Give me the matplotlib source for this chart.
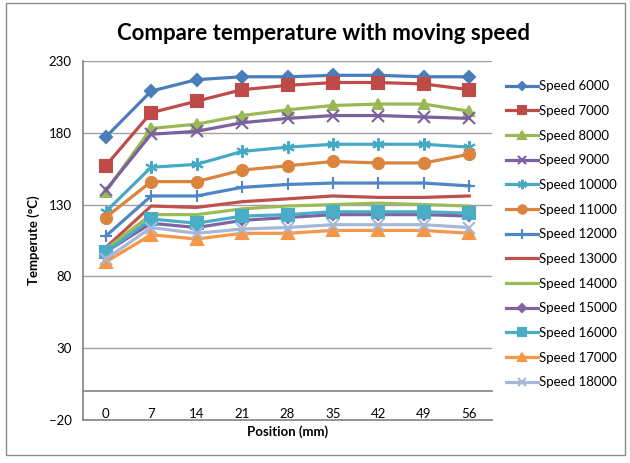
import matplotlib.pyplot as plt
from matplotlib.patches import Rectangle

plt.rcParams['font.family'] = ['Lato', 'DejaVu Sans']

# data
positions = [0, 7, 14, 21, 28, 35, 42, 49, 56]

speed_6000 = [177, 209, 217, 219, 219, 220, 220, 219, 219]
speed_7000 = [157, 194, 202, 210, 213, 215, 215, 214, 210]
speed_8000 = [139, 183, 186, 192, 196, 199, 200, 200, 195]
speed_9000 = [140, 179, 181, 187, 190, 192, 192, 191, 190]
speed_10000 = [125, 156, 158, 167, 170, 172, 172, 172, 170]
speed_11000 = [121, 146, 146, 154, 157, 160, 159, 159, 165]
speed_12000 = [108, 136, 136, 142, 144, 145, 145, 145, 143]
speed_13000 = [100, 129, 128, 132, 134, 136, 135, 135, 136]
speed_14000 = [99, 123, 123, 127, 129, 130, 131, 130, 129]
speed_15000 = [97, 117, 114, 119, 121, 123, 123, 123, 122]
speed_16000 = [97, 120, 117, 122, 123, 125, 125, 125, 124]
speed_17000 = [90, 109, 106, 110, 110, 112, 112, 112, 110]
speed_18000 = [92, 114, 110, 113, 114, 116, 116, 116, 114]

labels = ['Speed 6000', 'Speed 7000', 'Speed 8000', 'Speed 9000', 'Speed 10000',
          'Speed 11000', 'Speed 12000', 'Speed 13000', 'Speed 14000', 'Speed 15000',
          'Speed 16000', 'Speed 17000', 'Speed 18000']
series = [speed_6000, speed_7000, speed_8000, speed_9000, speed_10000, speed_11000,
          speed_12000, speed_13000, speed_14000, speed_15000, speed_16000,
          speed_17000, speed_18000]

colors = ['#4A7EBB', '#BE4B48', '#98B954', '#7D60A0', '#46AAC5', '#DB843D',
          '#4F86C6', '#C0504D', '#9BBB59', '#8064A2', '#4BACC6', '#F79646', '#A5B8D8']
markers = ['D', 's', '^', 'x', (6, 2, 0), 'o', '+', None, None, 'D', 's', '^', 'x']
msizes = [6, 8, 7, 8, 9, 8, 9, 0, 0, 5, 8, 8, 8]

fig = plt.figure(figsize=(6.3, 4.63), dpi=100)
ax = fig.add_axes([0.1317, 0.0929, 0.6493, 0.7754])

x = list(range(len(positions)))
for vals, lab, c, m, ms in zip(series, labels, colors, markers, msizes):
    ax.plot(x, vals, color=c, lw=2.3, marker=m, markersize=ms, markeredgewidth=1.5,
            label=lab, solid_joinstyle='round')

ax.set_xlim(-0.5, 8.5)
ax.set_ylim(-20, 230)
ax.set_yticks([-20, 30, 80, 130, 180, 230])
ax.set_xticks(x)
ax.set_xticklabels([str(p) for p in positions])
ax.tick_params(length=0, labelsize=9.5, colors='black')
ax.tick_params(axis='y', pad=8)
ax.tick_params(axis='x', pad=12)

for yv in [30, 80, 130, 180, 230]:
    ax.axhline(yv, color='#A0A0A0', lw=1, zorder=0)
# bottom border of the plot area
ax.axhline(-20, color='#8C8C8C', lw=1.3, zorder=0, clip_on=False)

ax.spines['top'].set_visible(False)
ax.spines['right'].set_visible(False)
ax.spines['bottom'].set_position(('data', 0))
ax.spines['left'].set_color('#8C8C8C')
ax.spines['bottom'].set_color('#8C8C8C')
ax.spines['left'].set_linewidth(1.3)
ax.spines['bottom'].set_linewidth(1.3)

ax.set_ylabel('Temperute (°C)', fontsize=9.5, fontweight='bold', labelpad=6)
ax.text(0.5, -0.032, 'Position (mm)', transform=ax.transAxes, fontsize=9.5,
        fontweight='bold', ha='center', va='center')

fig.text(0.513, 0.928, 'Compare temperature with moving speed', fontsize=16,
         fontweight='bold', ha='center', va='center')

fig.legend(loc='upper left', bbox_to_anchor=(0.795, 0.838), frameon=False,
           fontsize=9.5, labelspacing=0.96, handlelength=2.4, handletextpad=0.1,
           borderaxespad=0, markerscale=0.75)

fig.patches.append(Rectangle((6 / 630, 8 / 463), 619 / 630, 452 / 463,
                             transform=fig.transFigure, fill=False,
                             edgecolor='#8C8C8C', lw=1))

fig.savefig('out.png', dpi=100)
